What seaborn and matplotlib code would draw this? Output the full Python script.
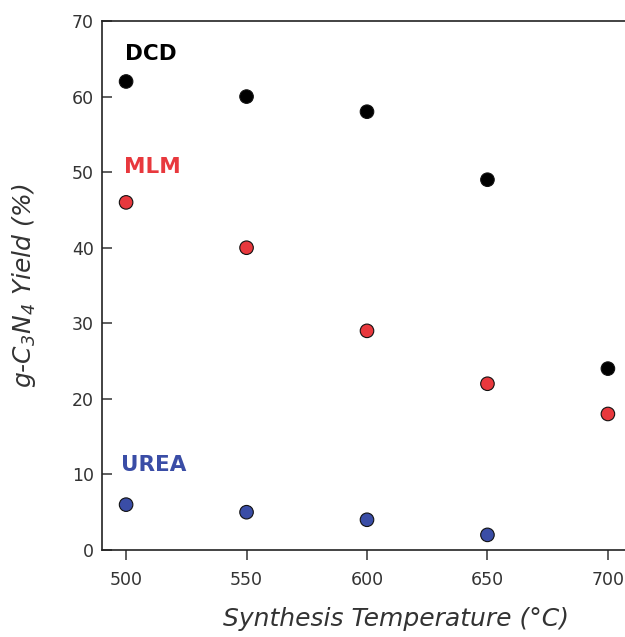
import matplotlib
matplotlib.use("Agg")
import matplotlib.pyplot as plt
import seaborn as sns
import pandas as pd

# data
temps = [500, 550, 600, 650, 700]
dcd_yield = [62, 60, 58, 49, 24]
mlm_yield = [46, 40, 29, 22, 18]
urea_temps = [500, 550, 600, 650]
urea_yield = [6, 5, 4, 2]

precursors = ["DCD", "MLM", "UREA"]
palette = {"DCD": "#000000", "MLM": "#E8383D", "UREA": "#3A4DA6"}
label_pos = {"DCD": (499.5, 65.6), "MLM": (499.0, 50.7), "UREA": (498.0, 11.2)}

df = pd.concat([
    pd.DataFrame({"temp": temps, "yield": dcd_yield, "precursor": "DCD"}),
    pd.DataFrame({"temp": temps, "yield": mlm_yield, "precursor": "MLM"}),
    pd.DataFrame({"temp": urea_temps, "yield": urea_yield, "precursor": "UREA"}),
])

sns.set_style("white")
plt.rcParams['font.family'] = ['DejaVu Sans']
plt.rcParams['mathtext.default'] = 'regular'
text_color = '#333333'

fig = plt.figure(figsize=(6.25, 6.37), dpi=100)
ax = fig.add_axes([0.1632, 0.1366, 0.848, 0.8304])

sns.scatterplot(data=df, x="temp", y="yield", hue="precursor",
                hue_order=precursors, palette=palette,
                s=95, edgecolor="#111111", linewidth=0.8,
                legend=False, zorder=3, ax=ax)

for name in precursors:
    x, y = label_pos[name]
    ax.text(x, y, name, color=palette[name], fontsize=15.5,
            fontweight='bold', ha='left', va='center')

ax.set_xlim(490, 710)
ax.set_ylim(0, 70)
ax.set_xticks(temps)
ax.set_yticks(range(0, 71, 10))

ax.set_xlabel("Synthesis Temperature (°C)", fontsize=18, style='italic',
              color=text_color, va='baseline')
ax.set_ylabel("g-C$_3$N$_4$ Yield (%)", fontsize=18, style='italic',
              color=text_color)
ax.xaxis.set_label_coords(0.555, -0.143)
ax.yaxis.set_label_coords(-0.12, 0.5)

ax.tick_params(axis='x', direction='out', length=7, width=1.1,
               colors=text_color, labelsize=12.5, pad=8, bottom=True)
ax.tick_params(axis='y', direction='in', length=7, width=1.1,
               colors=text_color, labelsize=12.5, pad=6, left=True)

for side in ['left', 'bottom', 'top']:
    ax.spines[side].set_color('#222222')
    ax.spines[side].set_linewidth(1.2)
ax.spines['right'].set_visible(False)
ax.grid(False)

fig.savefig("out.png", dpi=100)
